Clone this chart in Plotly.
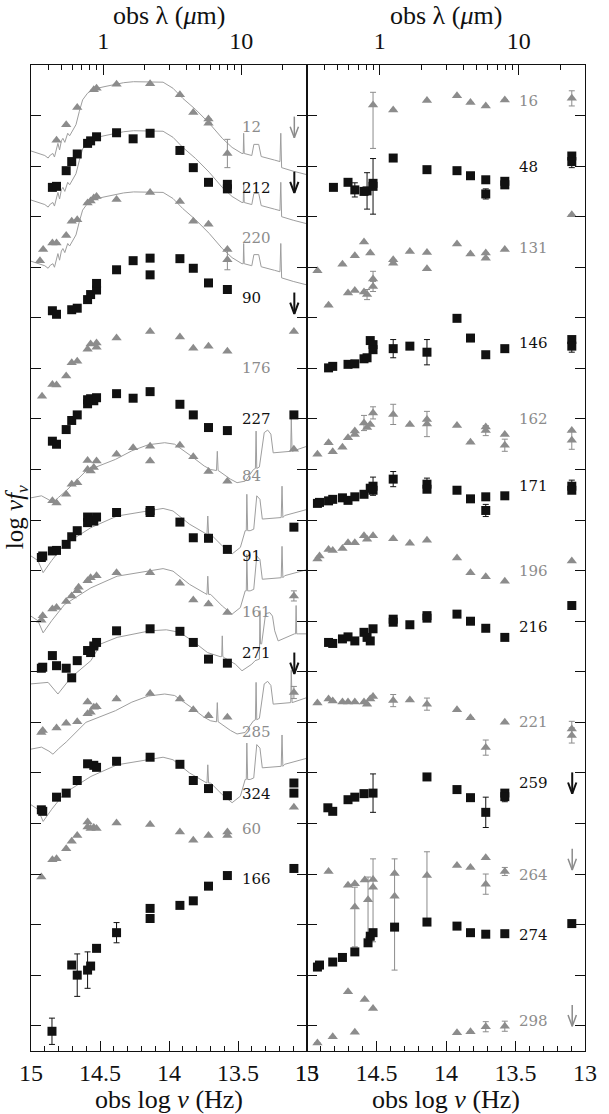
import math
import plotly.graph_objects as go

BLACK = "#111111"
GRAY = "#8c8c8c"
LINE_GRAY = "#9e9e9e"
SERIF = "Liberation Serif"

# ---------------------------------------------------------------- data
# x: observed log nu (Hz); y: log nu f_nu, arbitrary offsets (1 tick = 1 unit)

# template shapes (model SEDs)
tplE_nu = [15.0, 14.9, 14.876, 14.86, 14.841, 14.83, 14.805, 14.793, 14.78, 14.769,
           14.755, 14.734, 14.72, 14.674, 14.65, 14.626, 14.591, 14.55, 14.471, 14.329,
           14.257, 14.043, 13.971, 13.9, 13.807, 13.709, 13.614, 13.543, 13.471, 13.462,
           13.459, 13.455, 13.40, 13.385, 13.35, 13.332, 13.236, 13.196, 13.19, 13.184,
           13.1, 13.0]
tplE_f = [18.30, 18.21, 18.16, 18.22, 18.25, 18.18, 18.45, 18.32, 18.50, 18.55,
          18.47, 18.65, 18.60, 18.82, 19.08, 19.31, 19.44, 19.52, 19.57, 19.65,
          19.67, 19.66, 19.54, 19.34, 19.12, 18.85, 18.55, 18.37, 18.25, 18.25,
          18.65, 18.25, 18.21, 18.43, 18.43, 18.19, 18.12, 18.09, 18.65, 17.97,
          17.90, 17.83]

tplA_nu = [15.0, 14.924, 14.87, 14.841, 14.80, 14.745, 14.602, 14.507, 14.388, 14.269,
           14.15, 14.031, 13.959, 13.841, 13.745, 13.698, 13.656, 13.65, 13.644, 13.638,
           13.555, 13.507, 13.448, 13.388, 13.374, 13.369, 13.364, 13.345, 13.31, 13.285,
           13.262, 13.245, 13.126, 13.118, 13.114, 13.108, 13.0]
tplA_f = [11.44, 11.48, 11.40, 11.34, 11.45, 11.58, 11.97, 12.07, 12.20, 12.37,
          12.49, 12.53, 12.50, 12.27, 12.07, 12.00, 11.98, 12.36, 11.98, 11.97,
          11.81, 11.74, 11.77, 12.00, 12.02, 12.76, 12.02, 12.05, 12.73, 12.78,
          12.70, 12.33, 12.36, 12.36, 13.0, 12.36, 12.46]

tplB_nu = [15.0, 14.95, 14.912, 14.85, 14.757, 14.566, 14.376, 14.138, 14.043, 13.971,
           13.852, 13.745, 13.725, 13.719, 13.713, 13.698, 13.614, 13.543, 13.483, 13.448,
           13.44, 13.436, 13.43, 13.412, 13.386, 13.364, 13.341, 13.324, 13.198, 13.187,
           13.181, 13.175, 13.162, 13.0]
tplB_f = [10.29, 10.20, 9.96, 10.20, 10.52, 10.85, 11.08, 11.18, 11.23, 11.18,
          10.92, 10.75, 10.72, 11.08, 10.72, 10.72, 10.49, 10.33, 10.46, 10.79,
          10.79, 11.51, 10.79, 10.79, 10.82, 11.48, 11.41, 11.02, 11.05, 11.05,
          11.67, 11.05, 11.09, 11.21]

tplC_nu = [15.0, 14.876, 14.805, 14.709, 14.566, 14.495, 14.376, 14.138, 14.019, 13.924,
           13.829, 13.721, 13.63, 13.618, 13.614, 13.61, 13.6, 13.519, 13.471, 13.40,
           13.376, 13.345, 13.341, 13.337, 13.329, 13.30, 13.269, 13.25, 13.234, 13.209,
           13.091, 13.083, 13.079, 13.075, 13.064, 13.0]
tplC_f = [7.76, 7.79, 7.56, 7.89, 8.22, 8.55, 8.68, 8.81, 8.83, 8.78,
          8.61, 8.38, 8.30, 8.30, 8.71, 8.30, 8.28, 8.15, 8.02, 8.15,
          8.22, 8.25, 9.21, 8.55, 8.55, 9.15, 9.17, 9.10, 8.81, 8.61,
          8.75, 8.75, 9.31, 8.75, 8.75, 8.75]

# template name, vertical offset (all in the left panel)
templates = [("E", 0.0), ("E", -0.97), ("E", -2.18),
             ("A", 0.0), ("A", -4.97),
             ("B", 0.0), ("B", -1.19), ("B", -4.92),
             ("C", 0.0)]

# ---- left panel photometry
nu_12 = [14.815, 14.745, 14.665, 14.545, 14.525, 14.38, 14.137, 13.921, 13.824, 13.714, 13.714, 13.577]
f_12 = [18.51, 18.82, 19.16, 19.51, 19.54, 19.62, 19.63, 19.41, 19.06, 18.93, 18.85, 18.25]
e_12 = [0, 0, 0, 0, 0, 0, 0, 0, 0, 0, 0, 0.28]

nu_212 = [14.845, 14.815, 14.745, 14.705, 14.665, 14.59, 14.568, 14.525, 14.38, 14.26, 14.137,
          13.921, 13.824, 13.714, 13.577, 13.577]
f_212 = [17.58, 17.60, 17.91, 18.09, 18.24, 18.45, 18.50, 18.58, 18.66, 18.54, 18.65,
         18.31, 17.97, 17.68, 17.64, 17.55]

nu_220 = [14.935, 14.912, 14.845, 14.815, 14.745, 14.705, 14.665, 14.59, 14.568, 14.545, 14.525,
          14.38, 14.137, 13.921, 13.824, 13.714, 13.577, 13.577]
f_220 = [16.13, 16.35, 16.48, 16.48, 16.63, 16.91, 16.94, 17.27, 17.31, 17.37, 17.40,
         17.34, 17.48, 17.30, 16.91, 16.85, 16.35, 16.15]
e_220 = [0, 0, 0, 0, 0, 0, 0, 0, 0, 0, 0, 0, 0, 0, 0, 0, 0, 0.2]

nu_90 = [14.845, 14.815, 14.705, 14.665, 14.59, 14.568, 14.525, 14.525, 14.38, 14.26, 14.137, 14.137,
         13.921, 13.824, 13.714, 13.577]
f_90 = [15.14, 15.07, 15.16, 15.19, 15.36, 15.46, 15.55, 15.68, 15.95, 16.13, 16.18, 15.85,
        16.17, 15.98, 15.69, 15.56]

nu_176 = [14.92, 14.845, 14.815, 14.745, 14.705, 14.665, 14.59, 14.568, 14.525, 14.525, 14.38, 14.137,
          13.921, 13.824, 13.714, 13.577, 13.095]
f_176 = [13.45, 13.68, 13.67, 13.85, 14.11, 14.14, 14.38, 14.48, 14.50, 14.42, 14.60, 14.73,
         14.62, 14.40, 14.44, 14.34, 14.73]

nu_227 = [14.845, 14.815, 14.745, 14.705, 14.665, 14.59, 14.59, 14.568, 14.545, 14.525, 14.38, 14.26,
          14.137, 13.921, 13.824, 13.714, 13.577, 13.095]
f_227 = [12.56, 12.50, 12.79, 12.97, 13.08, 13.30, 13.38, 13.40, 13.36, 13.42, 13.50, 13.41,
         13.54, 13.29, 13.08, 12.83, 12.77, 13.08]

nu_84 = [14.845, 14.815, 14.745, 14.705, 14.665, 14.59, 14.59, 14.568, 14.545, 14.525, 14.38, 14.26,
         14.137, 14.137, 13.921, 13.824, 13.714, 13.577, 13.095]
f_84 = [11.38, 11.34, 11.51, 11.71, 11.74, 12.00, 12.18, 11.97, 12.04, 12.17, 12.30, 12.43,
        12.46, 12.17, 12.48, 12.25, 11.96, 11.77, 12.40]

nu_91 = [14.925, 14.915, 14.845, 14.815, 14.745, 14.705, 14.665, 14.59, 14.59, 14.568, 14.545, 14.525,
         14.38, 14.137, 14.137, 13.921, 13.824, 13.714, 13.577, 13.095]
f_91 = [10.26, 10.29, 10.39, 10.40, 10.52, 10.67, 10.79, 10.95, 11.06, 11.00, 10.98, 11.06,
        11.15, 11.19, 11.15, 10.96, 10.65, 10.64, 10.42, 10.86]

nu_161 = [14.925, 14.915, 14.845, 14.815, 14.745, 14.705, 14.665, 14.655, 14.59, 14.568, 14.525,
          14.38, 14.137, 13.921, 13.824, 13.714, 13.577, 13.095]
f_161 = [9.02, 9.11, 9.24, 9.27, 9.39, 9.50, 9.60, 9.67, 9.80, 9.86, 9.90,
         9.96, 9.96, 9.75, 9.42, 9.34, 9.17, 9.50]
e_161 = [0, 0, 0, 0, 0, 0, 0, 0, 0, 0, 0, 0, 0, 0, 0, 0, 0, 0.1]

nu_271 = [14.925, 14.915, 14.845, 14.815, 14.745, 14.705, 14.665, 14.59, 14.568, 14.545, 14.525,
          14.38, 14.137, 13.921, 13.824, 13.714, 13.577]
f_271 = [8.07, 8.09, 8.32, 8.12, 8.07, 7.88, 8.22, 8.42, 8.38, 8.51, 8.58,
         8.81, 8.85, 8.80, 8.58, 8.25, 8.17]

nu_285 = [14.925, 14.915, 14.815, 14.745, 14.665, 14.59, 14.59, 14.568, 14.545, 14.525,
          14.38, 14.137, 13.921, 13.824, 13.714, 13.577, 13.095]
f_285 = [6.80, 6.84, 6.89, 6.98, 7.01, 7.17, 7.40, 7.20, 7.30, 7.31,
         7.46, 7.57, 7.46, 7.25, 7.13, 7.10, 7.59]
e_285 = [0, 0, 0, 0, 0, 0, 0, 0, 0, 0, 0, 0, 0, 0, 0, 0, 0.12]

nu_324 = [14.925, 14.915, 14.815, 14.745, 14.665, 14.59, 14.545, 14.525, 14.38, 14.137,
          13.921, 13.824, 13.714, 13.577, 13.095, 13.095]
f_324 = [5.27, 5.24, 5.52, 5.60, 5.85, 6.18, 6.15, 6.11, 6.23, 6.31,
         6.17, 5.85, 5.69, 5.55, 5.80, 5.60]

nu_60 = [14.925, 14.845, 14.815, 14.745, 14.705, 14.665, 14.59, 14.59, 14.568, 14.545, 14.525,
         14.38, 14.137, 13.921, 13.824, 13.714, 13.577, 13.577, 13.095]
f_60 = [3.94, 4.28, 4.30, 4.50, 4.65, 4.76, 5.03, 4.93, 4.90, 4.92, 4.90,
        5.01, 4.98, 4.83, 4.67, 4.76, 4.83, 4.76, 5.32]

nu_166 = [14.848, 14.705, 14.665, 14.59, 14.568, 14.525, 14.38, 14.137, 14.137,
          13.921, 13.824, 13.714, 13.577, 13.095]
f_166 = [0.89, 2.20, 2.00, 2.10, 2.18, 2.53, 2.84, 3.32, 3.12,
         3.38, 3.47, 3.76, 3.97, 4.11]
e_166 = [0.26, 0, 0.42, 0.36, 0, 0, 0.2, 0, 0, 0, 0, 0, 0, 0]

# ---- right panel photometry
nu_16 = [14.525, 14.38, 14.137, 13.921, 13.824, 13.714, 13.577, 13.095]
f_16 = [19.21, 19.11, 19.30, 19.39, 19.26, 19.19, 19.31, 19.34]
ep_16 = [0.25, 0, 0, 0, 0, 0, 0, 0.15]
em_16 = [0.86, 0, 0, 0, 0, 0, 0, 0.15]

nu_48 = [14.81, 14.705, 14.656, 14.59, 14.568, 14.525, 14.525, 14.38, 14.137, 13.921, 13.824,
         13.714, 13.714, 13.577, 13.577, 13.095, 13.095]
f_48 = [17.58, 17.68, 17.53, 17.50, 17.51, 17.66, 17.60, 18.16, 17.93, 17.91, 17.81,
        17.73, 17.45, 17.70, 17.63, 18.20, 18.09]
e_48 = [0, 0, 0.14, 0, 0.36, 0, 0.55, 0, 0, 0, 0, 0, 0.1, 0, 0, 0, 0.12]

nu_131 = [14.925, 14.845, 14.745, 14.705, 14.656, 14.656, 14.59, 14.59, 14.568, 14.545, 14.525, 14.525,
          14.38, 14.38, 14.26, 14.137, 14.137, 13.921, 13.824, 13.714, 13.714, 13.577, 13.095]
f_131 = [15.93, 15.25, 16.06, 15.49, 15.54, 16.23, 16.50, 15.51, 15.46, 16.28, 15.77, 15.62,
         16.15, 16.08, 16.31, 16.29, 15.97, 16.46, 16.26, 16.28, 16.18, 16.35, 17.04]
e_131 = [0, 0, 0, 0, 0, 0, 0, 0, 0.1, 0, 0.15, 0.1,
         0, 0, 0, 0, 0, 0, 0, 0, 0, 0, 0]

nu_146 = [14.845, 14.815, 14.705, 14.656, 14.59, 14.568, 14.545, 14.525, 14.525, 14.38, 14.26, 14.137,
          13.921, 13.824, 13.714, 13.577, 13.095, 13.095]
f_146 = [14.01, 14.04, 14.08, 14.09, 14.19, 14.21, 14.55, 14.47, 14.37, 14.39, 14.44, 14.32,
         14.99, 14.60, 14.27, 14.39, 14.57, 14.44]
e_146 = [0, 0, 0, 0, 0, 0, 0, 0, 0, 0.18, 0, 0.25, 0, 0, 0, 0, 0, 0.12]

nu_162 = [14.925, 14.845, 14.815, 14.745, 14.705, 14.656, 14.656, 14.59, 14.568, 14.545, 14.525, 14.38,
          14.26, 14.137, 14.137, 13.921, 13.824, 13.714, 13.714, 13.577, 13.577, 13.095, 13.095]
f_162 = [12.30, 12.53, 12.35, 12.44, 12.63, 12.69, 12.76, 12.92, 12.83, 12.89, 13.12, 13.09,
         12.89, 12.99, 12.90, 12.87, 12.54, 12.84, 12.77, 12.69, 12.48, 12.77, 12.58]
e_162 = [0, 0, 0, 0, 0, 0, 0, 0.15, 0, 0, 0.12, 0.2,
         0, 0, 0.25, 0, 0, 0, 0.1, 0, 0.12, 0, 0.18]

nu_171 = [14.925, 14.91, 14.845, 14.815, 14.745, 14.705, 14.656, 14.59, 14.545, 14.525, 14.525,
          14.38, 14.137, 14.137, 13.921, 13.824, 13.714, 13.714, 13.577, 13.095, 13.095]
f_171 = [11.33, 11.35, 11.38, 11.41, 11.44, 11.39, 11.46, 11.51, 11.63, 11.67, 11.59,
         11.81, 11.71, 11.61, 11.59, 11.42, 11.46, 11.19, 11.48, 11.67, 11.59]
e_171 = [0, 0, 0, 0, 0, 0, 0, 0, 0, 0.18, 0,
         0.15, 0.12, 0, 0, 0, 0, 0.12, 0, 0.12, 0]

nu_196 = [14.925, 14.91, 14.845, 14.815, 14.745, 14.705, 14.656, 14.59, 14.568, 14.525,
          14.38, 14.26, 14.137, 13.921, 13.824, 13.714, 13.577, 13.095]
f_196 = [10.23, 10.29, 10.42, 10.40, 10.44, 10.55, 10.55, 10.69, 10.62, 10.69,
         10.63, 10.54, 10.60, 10.25, 9.96, 9.88, 9.79, 10.19]

nu_216 = [14.845, 14.815, 14.745, 14.705, 14.656, 14.59, 14.568, 14.545, 14.525, 14.38, 14.38,
          14.26, 14.137, 14.137, 13.921, 13.824, 13.714, 13.577, 13.095]
f_216 = [8.58, 8.56, 8.65, 8.69, 8.61, 8.78, 8.68, 8.61, 8.85, 9.04, 8.98,
         8.93, 9.11, 9.06, 9.14, 9.00, 8.86, 8.68, 9.31]

nu_221 = [14.925, 14.845, 14.815, 14.745, 14.705, 14.656, 14.59, 14.568, 14.545, 14.525,
          14.38, 14.26, 14.137, 13.921, 13.824, 13.714, 13.577, 13.095, 13.095]
f_221 = [7.38, 7.46, 7.42, 7.40, 7.40, 7.40, 7.40, 7.36, 7.46, 7.51,
         7.43, 7.44, 7.36, 7.25, 7.09, 6.50, 7.00, 6.87, 6.74]
e_221 = [0, 0, 0, 0, 0, 0, 0, 0, 0, 0,
         0.12, 0, 0.12, 0, 0, 0.15, 0, 0.15, 0.15]

nu_259 = [14.85, 14.815, 14.705, 14.656, 14.59, 14.525, 14.137, 13.921, 13.824, 13.714, 13.577, 13.577]
f_259 = [5.31, 5.24, 5.47, 5.52, 5.59, 5.60, 5.92, 5.67, 5.51, 5.22, 5.60, 5.53]
e_259 = [0, 0, 0, 0, 0, 0.38, 0, 0, 0, 0.3, 0, 0.1]

nu_264 = [14.845, 14.705, 14.656, 14.656, 14.585, 14.561, 14.525, 14.525, 14.37, 14.37, 14.137,
          13.921, 13.824, 13.714, 13.714, 13.577]
f_264 = [4.05, 3.78, 3.81, 3.35, 3.88, 3.49, 3.89, 3.74, 4.01, 3.56, 3.97,
         4.17, 4.13, 4.32, 3.80, 4.05]
ep_264 = [0, 0, 0, 0.39, 0, 0.45, 0, 0.56, 0, 0.74, 0.47, 0, 0, 0, 0.2, 0.08]
em_264 = [0, 0, 0, 0.79, 0, 0.74, 0, 1.08, 0, 1.46, 0.91, 0, 0, 0, 0.2, 0.08]

nu_274 = [14.925, 14.91, 14.815, 14.745, 14.656, 14.561, 14.545, 14.525, 14.37, 14.137,
          13.921, 13.824, 13.714, 13.577, 13.095]
f_274 = [2.16, 2.20, 2.26, 2.35, 2.46, 2.64, 2.77, 2.84, 2.95, 3.05,
         2.97, 2.84, 2.81, 2.82, 3.02]

nu_298 = [14.925, 14.815, 14.705, 14.656, 14.585, 14.525, 13.921, 13.824, 13.714, 13.577]
f_298 = [0.66, 0.78, 1.67, 0.87, 1.52, 1.34, 0.86, 0.88, 0.98, 0.99]
e_298 = [0, 0, 0, 0, 0, 0, 0, 0, 0.1, 0.1]

# 24 micron upper limits (value = top of arrow)
lim_left_gray = [18.98]
lim_left_black = [17.89, 15.50, 8.38]
lim_right_gray = [4.50, 1.41]
lim_right_black = [6.01]
lim_nu = 13.092

# object labels
labels_left = ["12", "212", "220", "90", "176", "227", "84", "91", "161", "271", "285", "324", "60", "166"]
labels_left_y = [18.78, 17.56, 16.58, 15.39, 14.0, 12.99, 11.87, 10.29, 9.19, 8.37, 6.80, 5.59, 4.90, 3.91]
labels_right = ["16", "48", "131", "146", "162", "171", "196", "216", "221", "259", "264", "274", "298"]
labels_right_y = [19.28, 17.98, 16.38, 14.50, 12.99, 11.67, 10.0, 8.89, 7.0, 5.80, 3.99, 2.79, 1.09]

# top axis wavelengths (micron)
lam_major = [1, 10]
lam_minor = [0.4, 0.5, 0.6, 0.7, 0.8, 0.9, 2, 3, 4, 5, 6, 7, 8, 9, 20]

# ---------------------------------------------------------------- figure
fig = go.Figure()
axes = [("x", "y"), ("x2", "y2")]
shapes = {"E": (tplE_nu, tplE_f), "A": (tplA_nu, tplA_f),
          "B": (tplB_nu, tplB_f), "C": (tplC_nu, tplC_f)}

for name, off in templates:
    tnu, tf = shapes[name]
    fig.add_trace(go.Scatter(x=tnu, y=[v + off for v in tf], mode="lines",
                             line=dict(color=LINE_GRAY, width=1),
                             xaxis="x", yaxis="y", showlegend=False, hoverinfo="skip"))


def add_sed(nu, f, panel, black, ep=None, em=None):
    xa, ya = axes[panel]
    col = BLACK if black else GRAY
    err = None
    if ep is not None:
        err = dict(type="data", symmetric=False, array=ep,
                   arrayminus=em if em is not None else ep,
                   color=col, thickness=1, width=3)
    fig.add_trace(go.Scatter(
        x=nu, y=f, mode="markers", xaxis=xa, yaxis=ya, error_y=err,
        marker=dict(symbol="square" if black else "triangle-up",
                    size=9, color=col, line=dict(width=0)),
        showlegend=False, hoverinfo="skip"))


seds = [
    (nu_12, f_12, 0, False, e_12, None), (nu_212, f_212, 0, True, None, None),
    (nu_220, f_220, 0, False, e_220, None), (nu_90, f_90, 0, True, None, None),
    (nu_176, f_176, 0, False, None, None), (nu_227, f_227, 0, True, None, None),
    (nu_84, f_84, 0, False, None, None), (nu_91, f_91, 0, True, None, None),
    (nu_161, f_161, 0, False, e_161, None), (nu_271, f_271, 0, True, None, None),
    (nu_285, f_285, 0, False, e_285, None), (nu_324, f_324, 0, True, None, None),
    (nu_60, f_60, 0, False, None, None), (nu_166, f_166, 0, True, e_166, None),
    (nu_16, f_16, 1, False, ep_16, em_16), (nu_48, f_48, 1, True, e_48, None),
    (nu_131, f_131, 1, False, e_131, None), (nu_146, f_146, 1, True, e_146, None),
    (nu_162, f_162, 1, False, e_162, None), (nu_171, f_171, 1, True, e_171, None),
    (nu_196, f_196, 1, False, None, None), (nu_216, f_216, 1, True, None, None),
    (nu_221, f_221, 1, False, e_221, None), (nu_259, f_259, 1, True, e_259, None),
    (nu_264, f_264, 1, False, ep_264, em_264), (nu_274, f_274, 1, True, None, None),
    (nu_298, f_298, 1, False, e_298, None),
]
for s in seds:
    add_sed(*s)


def add_limits(vals, panel, black):
    xa, ya = axes[panel]
    xs, ys = [], []
    for v in vals:
        tip = v - 0.42
        xs += [lim_nu, lim_nu, None, lim_nu + 0.03, lim_nu, lim_nu - 0.03, None]
        ys += [v, tip, None, tip + 0.22, tip, tip + 0.22, None]
    fig.add_trace(go.Scatter(x=xs, y=ys, mode="lines", xaxis=xa, yaxis=ya,
                             line=dict(color=BLACK if black else GRAY, width=2 if black else 1.5),
                             showlegend=False, hoverinfo="skip"))


add_limits(lim_left_gray, 0, False)
add_limits(lim_left_black, 0, True)
add_limits(lim_right_gray, 1, False)
add_limits(lim_right_black, 1, True)

# dummy traces so the top (wavelength) axes are drawn
for xa, ya in [("x3", "y"), ("x4", "y2")]:
    fig.add_trace(go.Scatter(x=[15, 13], y=[None, None], mode="markers", xaxis=xa, yaxis=ya,
                             showlegend=False, hoverinfo="skip"))

annotations = []
for panel, labs, ys in [(0, labels_left, labels_left_y), (1, labels_right, labels_right_y)]:
    xa, ya = axes[panel]
    for i, (lab, y) in enumerate(zip(labs, ys)):
        annotations.append(dict(x=13.487, y=y, xref=xa, yref=ya, text=lab, showarrow=False,
                                xanchor="left", yanchor="middle",
                                font=dict(family="DejaVu Serif", size=15,
                                          color=GRAY if i % 2 == 0 else BLACK)))

for cx in [0.249, 0.749]:
    annotations.append(dict(x=cx, y=-0.049, xref="paper", yref="paper", showarrow=False,
                            text="obs log <i>ν</i> (Hz)", xanchor="center", yanchor="middle",
                            font=dict(family=SERIF, size=26, color=BLACK)))
    annotations.append(dict(x=cx, y=1.0507, xref="paper", yref="paper", showarrow=False,
                            text="obs λ (<i>μ</i>m)", xanchor="center", yanchor="middle",
                            font=dict(family=SERIF, size=26, color=BLACK)))
annotations.append(dict(x=-0.026, y=0.541, xref="paper", yref="paper", showarrow=False,
                        text="log <i>νf</i><sub><i>ν</i></sub>", textangle=-90,
                        xanchor="center", yanchor="middle",
                        font=dict(family=SERIF, size=25, color=BLACK)))

LOG_C_MICRON = 14.4768  # log10(c / 1 micron) in Hz
lam_major_nu = [LOG_C_MICRON - math.log10(l) for l in lam_major]
lam_minor_nu = [LOG_C_MICRON - math.log10(l) for l in lam_minor]

bottom = dict(range=[15, 13], tickmode="array", tickvals=[15, 14.5, 14, 13.5, 13],
              ticktext=["15", "14.5", "14", "13.5", "13"], ticks="inside", ticklen=10,
              tickwidth=1.2, tickcolor=BLACK, showline=True, linecolor=BLACK, linewidth=1.3,
              mirror=True, showgrid=False, zeroline=False,
              tickfont=dict(family=SERIF, size=24, color=BLACK),
              minor=dict(tickmode="linear", tick0=13, dtick=0.1, ticks="inside", ticklen=5,
                         tickwidth=1, tickcolor=BLACK, showgrid=False))
top = dict(range=[15, 13], side="top", tickmode="array", tickvals=lam_major_nu,
           ticktext=[str(l) for l in lam_major], ticks="inside", ticklen=10, tickwidth=1.2,
           tickcolor=BLACK, showline=False, showgrid=False, zeroline=False,
           ticklabelstandoff=10,
           tickfont=dict(family=SERIF, size=24, color=BLACK),
           minor=dict(tickmode="array", tickvals=lam_minor_nu, ticks="inside", ticklen=5,
                      tickwidth=1, tickcolor=BLACK, showgrid=False))
yax = dict(range=[0.5, 20], tickmode="linear", tick0=1, dtick=1, ticks="inside", ticklen=10,
           tickwidth=1.2, tickcolor=BLACK, showticklabels=False, showline=True,
           linecolor=BLACK, linewidth=1.3, mirror="ticks", showgrid=False, zeroline=False)

split = 280 / 562
fig.update_layout(
    width=609, height=1114,
    margin=dict(l=31, r=16, t=65, b=63),
    paper_bgcolor="white", plot_bgcolor="white",
    xaxis=dict(domain=[0, split], anchor="y", **bottom),
    xaxis2=dict(domain=[split, 1], anchor="y2", **bottom),
    xaxis3=dict(overlaying="x", anchor="y", **top),
    xaxis4=dict(overlaying="x2", anchor="y2", **top),
    yaxis=dict(domain=[0, 1], anchor="x", **yax),
    yaxis2=dict(domain=[0, 1], anchor="x2", matches="y", **yax),
    annotations=annotations,
    showlegend=False,
)

# the page's default body margin would shift the 609x1114 figure off the window
fig.write_html("out.html", config={"displayModeBar": False},
               post_script="document.body.style.margin='0';")
